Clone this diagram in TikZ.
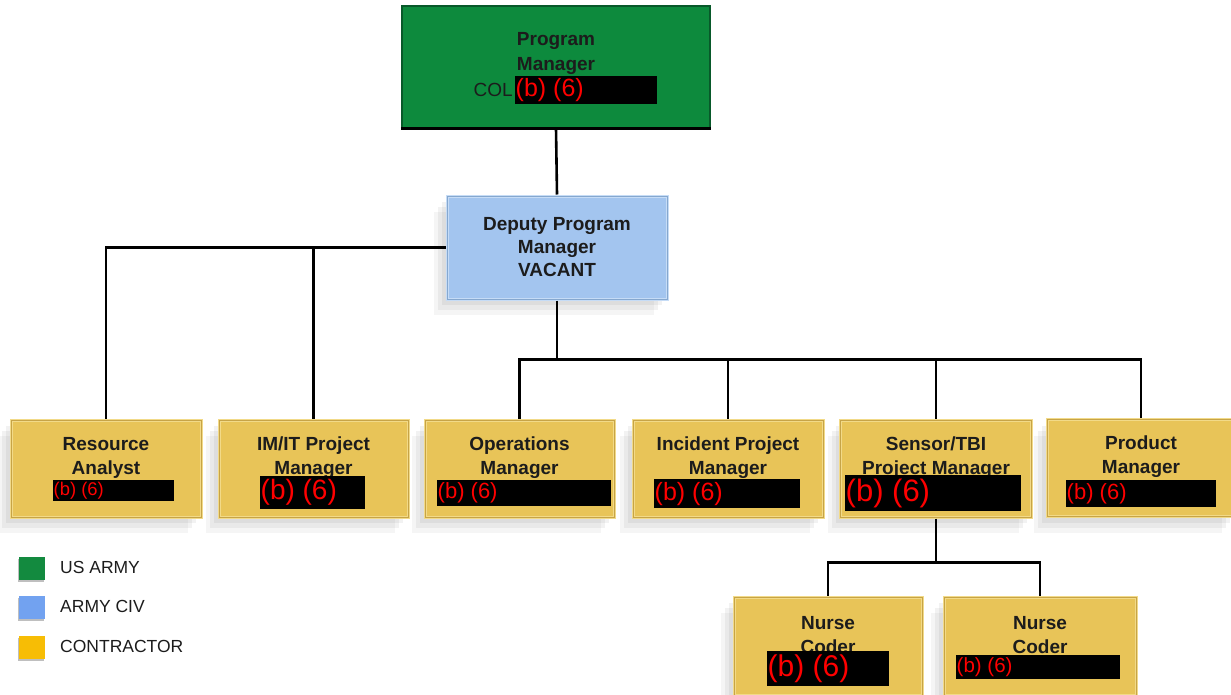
\documentclass[tikz,border=0pt]{standalone}
\usepackage{fontspec}
\setmainfont{Liberation Sans}
\usetikzlibrary{shadows}
\definecolor{pmgreen}{HTML}{0D8A3D}
\definecolor{pmedge}{HTML}{08592A}
\definecolor{dpblue}{HTML}{A3C5EF}
\definecolor{dprim}{HTML}{C6DCF6}
\definecolor{dpedge}{HTML}{86A8CF}
\definecolor{ybody}{HTML}{E8C458}
\definecolor{yrim}{HTML}{F2DA88}
\definecolor{yedge}{HTML}{C7A447}
\definecolor{lggreen}{HTML}{138A3F}
\definecolor{lgblue}{HTML}{72A2F0}
\definecolor{lgyellow}{HTML}{F7BD05}
\definecolor{txt}{HTML}{1C1C1C}
\begin{document}
\begin{tikzpicture}[x=1pt,y=-1pt,
  soft/.style={
    general shadow={fill=black,opacity=0.05,shadow xshift=-5pt,shadow yshift=-6pt},
    general shadow={fill=black,opacity=0.05,shadow xshift=-9pt,shadow yshift=-11pt},
    general shadow={fill=black,opacity=0.04,shadow xshift=-13pt,shadow yshift=-16pt}},
  gbox/.style={rectangle,inner sep=0,fill=pmgreen,draw=pmedge,line width=1.2pt},
  bbox/.style={rectangle,inner sep=0,fill=dpblue,draw=dprim,line width=3pt,soft,
    postaction={draw=dpedge,line width=0.8pt}},
  ybox/.style={rectangle,inner sep=0,fill=ybody,draw=yrim,line width=3pt,soft,
    minimum height=97pt,postaction={draw=yedge,line width=0.8pt}},
  ttl/.style={inner sep=0,align=center,text=txt,font=\fontsize{19}{24}\selectfont\bfseries},
  redact/.style={rectangle,inner sep=0,fill=black,anchor=north west},
  redtxt/.style={inner sep=0.5pt,anchor=west,text=red},
  conn/.style={line width=2.6pt,black},
  lgsq/.style={rectangle,inner sep=0,minimum width=26pt,minimum height=23pt,
    general shadow={fill=black,opacity=0.25,shadow xshift=-1pt,shadow yshift=-2pt}},
  lgtxt/.style={inner sep=0,anchor=west,text=txt,font=\fontsize{17.5}{20}\selectfont}
]
\useasboundingbox (0,0) rectangle (1231,694);

% ---------- boxes ----------
\node[gbox,minimum width=308pt,minimum height=122pt] (pm) at (556,67) {};
\node[bbox,minimum width=220pt,minimum height=103pt] (dpm) at (557,247.5) {};

\node[ybox,minimum width=190pt] (ra) at (106,468.5) {};
\node[ybox,minimum width=189pt] (it) at (313.5,468.5) {};
\node[ybox,minimum width=189pt] (om) at (519.5,468.5) {};
\node[ybox,minimum width=190pt] (ip) at (728,468.5) {};
\node[ybox,minimum width=191pt] (st) at (936,468.5) {};
\node[ybox,minimum width=188pt] (pd) at (1141,468) {};
\node[ybox,minimum width=188pt,minimum height=98pt] (nc1) at (828,646) {};
\node[ybox,minimum width=192pt,minimum height=98pt] (nc2) at (1040,646) {};

% ---------- connectors ----------
\draw[conn] (pm.south) -- (dpm.north);
\draw[conn] (dpm.west) -| (ra.north);
\draw[conn] (it.north) -- (it.north |- dpm.west);
\draw[conn] (dpm.south) -- ++(0,59) coordinate (bus);
\draw[conn] (om.north) |- (bus);
\draw[conn] (pd.north) |- (bus);
\draw[conn] (ip.north) -- (ip.north |- bus);
\draw[conn] (st.north) -- (st.north |- bus);
\draw[conn] (st.south) -- ++(0,44) coordinate (bus2);
\draw[conn] (nc1.north) |- (bus2) -| (nc2.north);
\draw[line width=3pt,black] (pm.south west) -- (pm.south east);

% ---------- titles ----------
\node[ttl,font=\fontsize{19}{25}\selectfont\bfseries] (pm-t) at (556,53.5) {Program\\Manager};
\node[inner sep=0,anchor=east,text=txt,font=\fontsize{19}{22}\selectfont] (pm-col) at (513,90) {COL};
\node[ttl,font=\fontsize{19}{23}\selectfont\bfseries] (dpm-t) at (557,247.5) {Deputy Program\\Manager\\VACANT};
\node[ttl] (ra-t) at (106,458) {Resource\\Analyst};
\node[ttl] (it-t) at (313.5,458) {IM/IT Project\\Manager};
\node[ttl] (om-t) at (519.5,458) {Operations\\Manager};
\node[ttl] (ip-t) at (728,458) {Incident Project\\Manager};
\node[ttl] (st-t) at (936,458) {Sensor/TBI\\Project Manager};
\node[ttl] (pd-t) at (1141,457) {Product\\Manager};
\node[ttl] (nc1-t) at (828,635) {Nurse\\Coder};
\node[ttl] (nc2-t) at (1040,635) {Nurse\\Coder};

% ---------- redactions ----------
\node[redact,minimum width=142pt,minimum height=28pt] (pm-r) at (515,76) {};
\node[redtxt,font=\fontsize{25}{25}\selectfont] at (pm-r.west) {(b) (6)};
\node[redact,minimum width=121pt,minimum height=21pt] (ra-r) at (53,480) {};
\node[redtxt,font=\fontsize{18.4}{19}\selectfont] at (ra-r.west) {(b) (6)};
\node[redact,minimum width=105pt,minimum height=33pt] (it-r) at (260,476) {};
\node[redtxt,font=\fontsize{28}{28}\selectfont] at (it-r.west) {(b) (6)};
\node[redact,minimum width=174pt,minimum height=26pt] (om-r) at (437,480) {};
\node[redtxt,font=\fontsize{22}{22}\selectfont] at (om-r.west) {(b) (6)};
\node[redact,minimum width=146pt,minimum height=29pt] (ip-r) at (654,479) {};
\node[redtxt,font=\fontsize{25}{25}\selectfont] at (ip-r.west) {(b) (6)};
\node[redact,minimum width=176pt,minimum height=36pt] (st-r) at (845,475) {};
\node[redtxt,font=\fontsize{31}{31}\selectfont] at (st-r.west) {(b) (6)};
\node[redact,minimum width=150pt,minimum height=27pt] (pd-r) at (1066,480) {};
\node[redtxt,font=\fontsize{22}{22}\selectfont] at (pd-r.west) {(b) (6)};
\node[redact,minimum width=122pt,minimum height=35pt] (nc1-r) at (767,651) {};
\node[redtxt,font=\fontsize{30}{30}\selectfont] at (nc1-r.west) {(b) (6)};
\node[redact,minimum width=164pt,minimum height=24pt] (nc2-r) at (956,655) {};
\node[redtxt,font=\fontsize{20.5}{21}\selectfont] at (nc2-r.west) {(b) (6)};

% ---------- legend ----------
\node[lgsq,fill=lggreen] (lg1) at (32,568.5) {};
\node[lgsq,fill=lgblue] (lg2) at (32,607.5) {};
\node[lgsq,fill=lgyellow] (lg3) at (32,647) {};
\node[lgtxt] (lg1-t) at (60,567) {US ARMY};
\node[lgtxt] (lg2-t) at (60,606) {ARMY CIV};
\node[lgtxt] (lg3-t) at (60,646) {CONTRACTOR};
\end{tikzpicture}
\end{document}
